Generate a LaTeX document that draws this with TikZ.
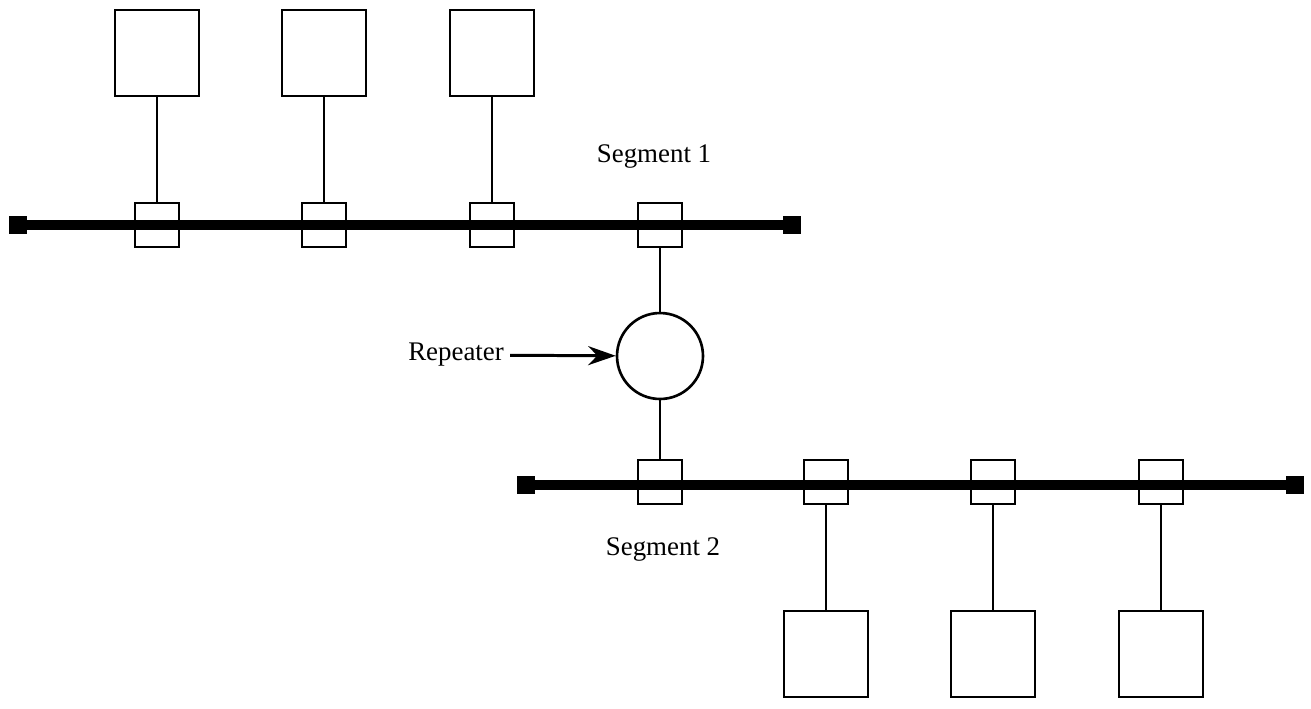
\documentclass[tikz,border=0pt]{standalone}
\usepackage{fontspec}
\setmainfont{Liberation Serif}
\usetikzlibrary{positioning, arrows.meta}
\tikzset{>=latex}
\tikzset{
    station/.style={draw, line width=1.5pt, minimum width=1.68cm, minimum height=1.72cm, inner sep=0pt},
    tap/.style={draw, line width=1.5pt, minimum size=0.88cm, inner sep=0pt},
    terminator/.style={fill, minimum size=0.36cm, inner sep=0pt},
    cable/.style={line width=5.5pt},
    drop/.style={line width=1.5pt},
    lbl/.style={font=\fontsize{15.3}{18}\selectfont}
}

\begin{document}
\begin{tikzpicture}[x=0.02cm, y=-0.02cm]
    \useasboundingbox (0,0) rectangle (1311,708);
    % segment 1
    \node[terminator] (end1l) at (18,225) {};
    \node[terminator] (end1r) at (792,225) {};
    \draw[cable] (end1l) -- (end1r);
    \node[tap] (tap1) at (157,225) {};
    \node[tap] (tap2) at (324,225) {};
    \node[tap] (tap3) at (492,225) {};
    \node[tap] (tap4) at (660,225) {};
    \node[station] (host1) at (157,53) {};
    \node[station] (host2) at (324,53) {};
    \node[station] (host3) at (492,53) {};
    \draw[drop] (host1) -- (tap1);
    \draw[drop] (host2) -- (tap2);
    \draw[drop] (host3) -- (tap3);
    \node[lbl] (seg1) at (654,156) {Segment 1};
    % repeater
    \node[draw, circle, line width=1.5pt, minimum size=1.72cm, inner sep=0pt] (rep) at (660,356) {};
    \node[lbl, anchor=east] (replabel) at (510,355) {Repeater};
    \draw[line width=1.7pt, -{Stealth[length=0.55cm, width=0.38cm, inset=0.18cm]}] (replabel) -- (rep);
    % segment 2
    \node[terminator] (end2l) at (526,485) {};
    \node[terminator] (end2r) at (1295,485) {};
    \draw[cable] (end2l) -- (end2r);
    \node[tap] (tap5) at (660,482) {};
    \node[tap] (tap6) at (826,482) {};
    \node[tap] (tap7) at (993,482) {};
    \node[tap] (tap8) at (1161,482) {};
    \node[station] (host4) at (826,654) {};
    \node[station] (host5) at (993,654) {};
    \node[station] (host6) at (1161,654) {};
    \draw[drop] (tap4) -- (rep);
    \draw[drop] (rep) -- (tap5);
    \draw[drop] (tap6) -- (host4);
    \draw[drop] (tap7) -- (host5);
    \draw[drop] (tap8) -- (host6);
    \node[lbl] (seg2) at (663,549) {Segment 2};
\end{tikzpicture}
\end{document}
